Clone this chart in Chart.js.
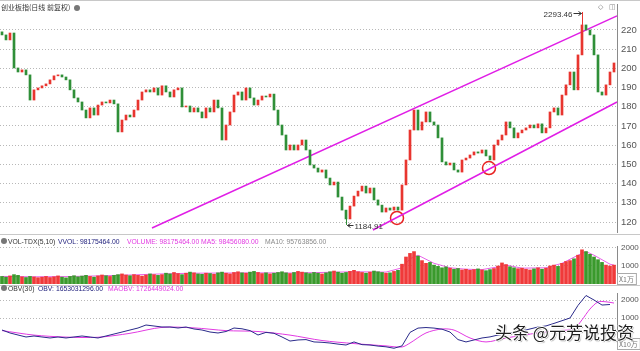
<!DOCTYPE html>
<html>
<head>
<meta charset="utf-8">
<script src="https://cdn.jsdelivr.net/npm/chart.js@4.4.1/dist/chart.umd.min.js"></script>
<style>
  body { margin: 0; background: #fff; }
  #wrap { position: relative; width: 640px; height: 351px; overflow: hidden; font-family: "Liberation Sans", Arial, sans-serif; }
  canvas { position: absolute; left: 0; }
  .t { position: absolute; white-space: nowrap; font-size: 6.8px; line-height: 9px; }
  .gear { position: absolute; width: 6px; height: 6px; border-radius: 50%; background: #777; }
  .sep { position: absolute; left: 0; width: 640px; height: 1px; background: #c8c8c8; }
  #mark { position: absolute; left: 495px; top: 323px; font-family: "Noto Sans CJK SC", sans-serif; font-size: 17px; line-height: 17px; color: #1e1e1e; white-space: nowrap;
          text-shadow: 1px 0 0 #fff, -1px 0 0 #fff, 0 1px 0 #fff, 0 -1px 0 #fff, 1px 1px 1px #888; }
</style>
</head>
<body>
<div id="wrap">
  <canvas id="main" width="640" height="234" style="top:0"></canvas>
  <canvas id="vol" width="640" height="51" style="top:234px"></canvas>
  <canvas id="obv" width="640" height="66" style="top:285px"></canvas>

  <div class="sep" style="top:0"></div>
  <div class="sep" style="top:234px"></div>
  <div class="sep" style="top:285px"></div>

  <div class="t" style="left:1px;top:3px;font-size:7px;font-family:'Noto Sans CJK SC',sans-serif;color:#333">创业板指(日线 前复权)</div>
  <div class="gear" style="left:74px;top:5px"></div>
  <div class="t" style="left:598px;top:2px;color:#888">◇</div>
  <div class="t" style="left:609px;top:2px;color:#888">◫</div>

  <div class="gear" style="left:1px;top:238px"></div>
  <div class="t" style="left:8px;top:237px;color:#333">VOL-TDX(5,10)</div>
  <div class="t" style="left:58px;top:237px;color:#23237e">VVOL: 98175464.00</div>
  <div class="t" style="left:127px;top:237px;color:#e23ae2">VOLUME: 98175464.00</div>
  <div class="t" style="left:201px;top:237px;color:#e23ae2">MA5: 98456080.00</div>
  <div class="t" style="left:265px;top:237px;color:#8a8a8a">MA10: 95763856.00</div>

  <div class="gear" style="left:1px;top:285px"></div>
  <div class="t" style="left:8px;top:284px;color:#333">OBV(30)</div>
  <div class="t" style="left:38px;top:284px;color:#23237e">OBV: 1653031296.00</div>
  <div class="t" style="left:108px;top:284px;color:#e23ae2">MAOBV: 1726449024.00</div>

  <div id="mark">头条 @元芳说投资</div>
</div>
<script>
// daily closes, one bar every ~4 px of the original
const closes = [
  2174, 2148, 2184, 2002, 1981, 1992, 1966, 1835, 1888, 1898,
  1909, 1919, 1940, 1961, 1966, 1955, 1940, 1888, 1846, 1825,
  1783, 1742, 1794, 1757, 1809, 1825, 1820, 1835, 1815, 1669,
  1731, 1757, 1747, 1783, 1835, 1877, 1888, 1877, 1898, 1861,
  1909, 1877, 1851, 1888, 1898, 1799, 1804, 1773, 1794, 1773,
  1742, 1794, 1773, 1835, 1794, 1627, 1705, 1773, 1861, 1877,
  1835, 1898, 1846, 1809, 1835, 1856, 1851, 1866, 1783, 1705,
  1653, 1575, 1601, 1575, 1601, 1627, 1575, 1497, 1481, 1460,
  1471, 1429, 1393, 1408, 1330, 1262, 1216, 1283, 1335, 1361,
  1387, 1351, 1377, 1315, 1288, 1252, 1273, 1262, 1278, 1262,
  1393, 1523, 1679, 1783, 1679, 1721, 1773, 1721, 1705, 1638,
  1513, 1497, 1507, 1471, 1460, 1523, 1533, 1549, 1565, 1559,
  1575, 1544, 1523, 1601, 1627, 1653, 1721, 1690, 1638, 1664,
  1679, 1690, 1705, 1690, 1711, 1664, 1690, 1773, 1794, 1757,
  1861, 1914, 1981, 1888, 2070, 2226, 2200, 2174, 2070, 1877,
  1861, 1914, 1981, 2028
];
const firstOpen = 2190;

// volume, x1万
const volumes = [
  420, 380, 450, 520, 480, 400, 360, 420, 390, 350,
  380, 420, 360, 400, 450, 380, 340, 420, 460, 400,
  440, 480, 420, 380, 450, 500, 460, 420, 480, 520,
  560, 500, 460, 520, 480, 440, 500, 560, 520, 480,
  520, 600, 560, 640, 580, 520, 600, 660, 620, 560,
  540, 600, 580, 540, 620, 660, 600, 560, 640, 680,
  620, 600, 660, 700, 640, 580, 620, 560, 600, 640,
  680, 620, 580, 640, 700, 660, 620, 580, 640, 600,
  560, 620, 680, 720, 660, 600, 640, 700, 760, 680,
  640, 600, 660, 720, 680, 640, 600, 620, 700, 760,
  1100, 1500, 1700, 1800, 1550, 1300, 1150, 1200, 1050, 980,
  900, 950, 880, 820, 860, 780, 820, 760, 800, 840,
  780, 740, 800, 860, 1000, 1170, 1080, 960, 900, 850,
  880, 820, 780, 840, 900, 820, 880, 1000, 1050, 980,
  1150, 1250, 1300, 1400, 1600, 1900, 1800, 1650, 1500, 1350,
  1200, 1050, 1000, 1050
];
const volMaIdx = [0, 8, 16, 24, 32, 40, 48, 56, 64, 72, 80, 88, 96, 100, 102, 104, 108, 112, 116, 120, 124, 126, 130, 136, 140, 144, 146, 148, 152, 153];
const volMa    = [420, 400, 410, 450, 500, 560, 600, 610, 620, 610, 640, 680, 660, 900, 1400, 1600, 1150, 900, 820, 800, 950, 1050, 880, 900, 1150, 1600, 1800, 1600, 1100, 1050];

// OBV, x10万, every second bar
const obv = [
  333, 167, 55, -55, 0, -55, -110, -55, -110, -55,
  0, -55, -110, 0, 110, 220, 333, 444, 611, 555,
  500, 500, 444, 500, 390, 333, 222, 167, 250, 444,
  400, 300, 55, 200, 150, -55, -280, -220, -200, -330,
  -350, -390, -450, -500, -330, -480, -500, -560, -600, -680,
  -550, 200, 440, 470, 440, 380, 220, -200, -330, -220,
  -110, -50, 55, 110, 200, 280, 390, 500, 560, 700,
  850, 1000, 1700, 2250, 2000, 1720, 1750
];
const maObvIdx = [0, 8, 16, 24, 32, 40, 48, 56, 64, 72, 80, 88, 96, 100, 102, 106, 110, 113, 117, 121, 126, 134, 139, 143, 145, 147, 149, 151, 153];
const maObv    = [300, 50, -60, -70, 150, 480, 450, 300, 250, 50, -250, -420, -550, -610, -390, 170, 390, 330, -110, -330, -110, 170, 300, 400, 900, 1500, 1890, 1900, 1830];

// price ticks
const priceTicks = [1200, 1300, 1400, 1500, 1600, 1700, 1800, 1900, 2000, 2100, 2200];
const priceTickLabels = ['120', '130', '140', '150', '160', '170', '180', '190', '200', '210', '220'];
const lowerTicks = [1000, 2000];
const lowerTickLabels = ['1000', '2000'];

// marked extremes
const peakIdx = 145, peakVal = 2293.46;
const troughIdx = 86, troughVal = 1184.91;

// trend channel and touch points
const upperX = [37.5, 153.75], upperY = [1168.75, 2272.9];
const lowerX = [92.75, 153.75], lowerY = [1158.3, 1825];
const ringX = [98.75, 121.75], ringY = [1221, 1481];

const RED = '#e8352f', GREEN = '#2f8f38';
const opens = closes.map((c, i) => i === 0 ? firstOpen : closes[i - 1]);
const barColors = closes.map((c, i) => c >= opens[i] ? RED : GREEN);
const volColors = closes.map((c, i) => c >= opens[i] ? '#f03a3a' : '#3a9a2c');

function xScale() {
  return { type: 'linear', display: false, offset: false, min: -0.5, max: 153.75 };
}
function yScale(min, max, ticks, labels, size) {
  return {
    position: 'right', min: min, max: max,
    afterBuildTicks: s => { s.ticks = ticks.map(v => ({ value: v })); },
    afterFit: s => { s.width = 23; s.paddingTop = 0; s.paddingBottom = 0; },
    ticks: {
      padding: 4, color: '#555', font: { size: size, family: 'Liberation Sans', lineHeight: 0.2 },
      callback: v => labels[ticks.indexOf(v)]
    },
    grid: { color: '#b8b8b8', drawTicks: false, lineWidth: 1 },
    border: { display: true, color: '#8a8a8a', dash: [1, 2] }
  };
}
const baseOpts = {
  responsive: false, animation: false,
  plugins: { legend: { display: false }, tooltip: { enabled: false } }
};

const markerPlugin = {
  id: 'markers',
  afterDatasetsDraw(chart) {
    const { ctx, scales: { x, y } } = chart;
    ctx.save();
    ctx.lineWidth = 1;
    // wicks to the extremes
    const pk = Math.round(x.getPixelForValue(peakIdx)) + 0.5;
    ctx.strokeStyle = barColors[peakIdx];
    ctx.beginPath();
    ctx.moveTo(pk, y.getPixelForValue(Math.max(opens[peakIdx], closes[peakIdx])));
    ctx.lineTo(pk, y.getPixelForValue(peakVal));
    ctx.stroke();
    const tr = Math.round(x.getPixelForValue(troughIdx)) + 0.5;
    ctx.strokeStyle = barColors[troughIdx];
    ctx.beginPath();
    ctx.moveTo(tr, y.getPixelForValue(Math.min(opens[troughIdx], closes[troughIdx])));
    ctx.lineTo(tr, y.getPixelForValue(troughVal));
    ctx.stroke();

    ctx.font = '8px "Liberation Sans"';
    ctx.fillStyle = '#333';
    ctx.strokeStyle = '#333';
    ctx.textBaseline = 'middle';
    // peak label with arrow
    const py = Math.round(y.getPixelForValue(peakVal)) + 1.5;
    ctx.textAlign = 'right';
    ctx.fillText(peakVal.toFixed(2), pk - 10, py + 1);
    ctx.beginPath();
    ctx.moveTo(pk - 9, py); ctx.lineTo(pk - 1, py);
    ctx.moveTo(pk - 4, py - 2); ctx.lineTo(pk - 1, py); ctx.lineTo(pk - 4, py + 2);
    ctx.stroke();
    // trough label with arrow
    const ty = Math.round(y.getPixelForValue(troughVal)) + 0.5;
    ctx.textAlign = 'left';
    ctx.fillText(troughVal.toFixed(2), tr + 8, ty + 1);
    ctx.beginPath();
    ctx.moveTo(tr + 1, ty); ctx.lineTo(tr + 7, ty);
    ctx.moveTo(tr + 4, ty - 2); ctx.lineTo(tr + 1, ty); ctx.lineTo(tr + 4, ty + 2);
    ctx.stroke();
    ctx.restore();
  }
};

const unitPlugin = {
  id: 'unitLabel',
  afterDraw(chart, args, opts) {
    if (!opts.text) return;
    const { ctx, chartArea } = chart;
    ctx.save();
    ctx.font = '7px "Noto Sans CJK SC"';
    ctx.fillStyle = '#777';
    ctx.textBaseline = 'middle';
    ctx.textAlign = 'left';
    const yy = chartArea.bottom - 5 + opts.dy;
    const w = ctx.measureText(opts.text).width;
    ctx.fillText(opts.text, chartArea.right + 2, yy);
    ctx.strokeStyle = '#aaa';
    ctx.strokeRect(chartArea.right + 0.5, yy - 5.5, w + 4, 11);
    ctx.restore();
  }
};

new Chart(document.getElementById('main'), {
  type: 'bar',
  data: {
    datasets: [
      {
        type: 'bar',
        data: closes.map((c, i) => ({ x: i, y: [opens[i], c] })),
        backgroundColor: barColors, borderWidth: 0,
        barThickness: 2, grouped: false
      },
      {
        type: 'line',
        data: upperX.map((v, i) => ({ x: v, y: upperY[i] })),
        borderColor: '#e01ee6', borderWidth: 1.5, pointRadius: 0, clip: false
      },
      {
        type: 'line',
        data: lowerX.map((v, i) => ({ x: v, y: lowerY[i] })),
        borderColor: '#e01ee6', borderWidth: 1.5, pointRadius: 0, clip: false
      },
      {
        type: 'scatter',
        data: ringX.map((v, i) => ({ x: v, y: ringY[i] })),
        pointRadius: 6.5, pointBorderColor: '#e82222', pointBackgroundColor: 'rgba(0,0,0,0)',
        pointBorderWidth: 1.5, clip: false
      }
    ]
  },
  options: Object.assign({}, baseOpts, {
    layout: { autoPadding: false, padding: { top: 4, bottom: 2, left: 0, right: 0 } },
    scales: { x: xScale(), y: yScale(1148, 2335, priceTicks, priceTickLabels, 9.5) }
  }),
  plugins: [markerPlugin]
});

new Chart(document.getElementById('vol'), {
  type: 'bar',
  data: {
    datasets: [
      {
        type: 'bar',
        data: volumes.map((v, i) => ({ x: i, y: v })),
        backgroundColor: volColors, borderWidth: 0,
        barThickness: 3, grouped: false
      },
      {
        type: 'line',
        data: volMaIdx.map((v, i) => ({ x: v, y: volMa[i] })),
        borderColor: '#e23ae2', borderWidth: 0.8, pointRadius: 0
      }
    ]
  },
  options: Object.assign({}, baseOpts, {
    layout: { autoPadding: false, padding: { top: 12, bottom: 1, left: 0, right: 0 } },
    plugins: Object.assign({}, baseOpts.plugins, { unitLabel: { text: 'X1万', dy: 0 } }),
    scales: { x: xScale(), y: yScale(0, 2111, lowerTicks, lowerTickLabels, 8) }
  }),
  plugins: [unitPlugin]
});

new Chart(document.getElementById('obv'), {
  type: 'line',
  data: {
    datasets: [
      {
        data: obv.map((v, i) => ({ x: i * 2, y: v })),
        borderColor: '#2a2a8a', borderWidth: 1, pointRadius: 0, tension: 0
      },
      {
        data: maObvIdx.map((v, i) => ({ x: v, y: maObv[i] })),
        borderColor: '#e23ae2', borderWidth: 1, pointRadius: 0, tension: 0.3
      }
    ]
  },
  options: Object.assign({}, baseOpts, {
    layout: { autoPadding: false, padding: { top: 8, bottom: 2, left: 0, right: 0 } },
    plugins: Object.assign({}, baseOpts.plugins, { unitLabel: { text: 'X10万', dy: 0 } }),
    scales: { x: xScale(), y: yScale(-722, 2389, lowerTicks, lowerTickLabels, 8) }
  }),
  plugins: [unitPlugin]
});
</script>
</body>
</html>
